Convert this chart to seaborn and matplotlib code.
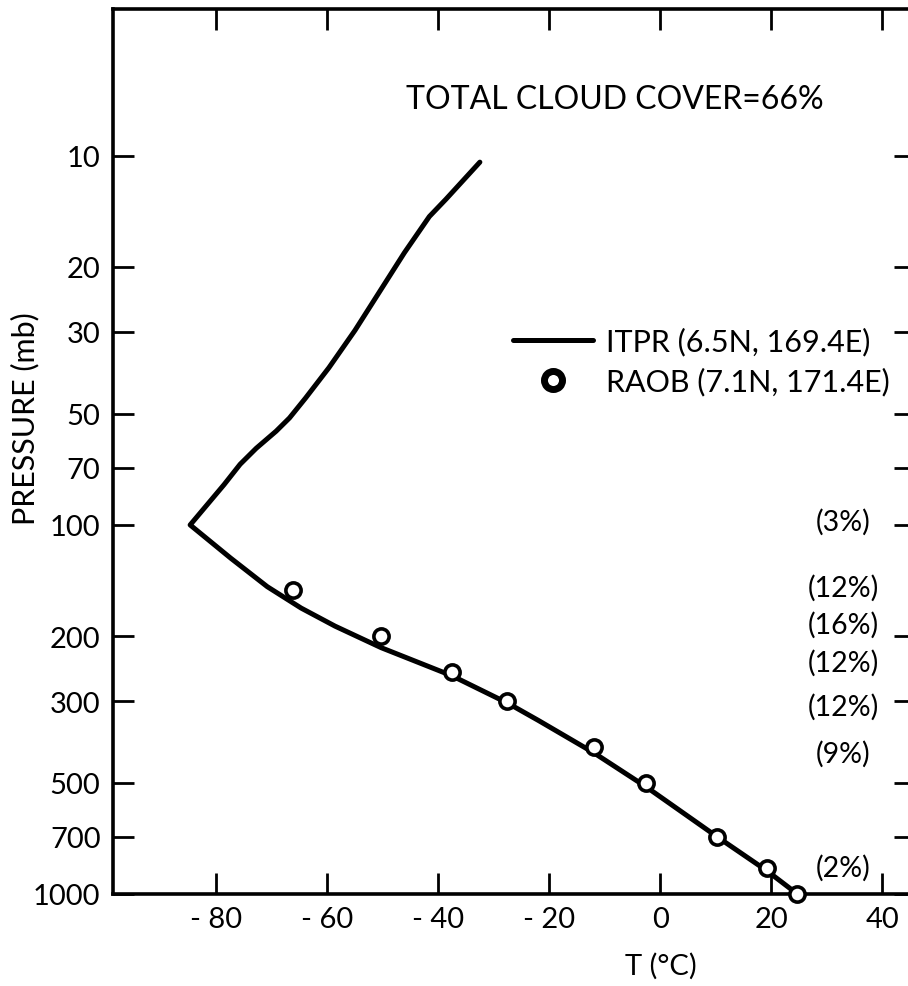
import matplotlib
matplotlib.use("Agg")
import matplotlib.pyplot as plt
from matplotlib.lines import Line2D
from matplotlib.ticker import FixedLocator, NullLocator
import pandas as pd
import seaborn as sns

# ITPR retrieved temperature profile (pressure in mb, temperature in deg C)
itpr_pressure = [10.4, 13.1, 14.6, 18.3, 29.7, 37.5, 45.3, 51.3, 55.7, 62.0, 68.5,
                 77.8, 100, 123, 147, 168, 188, 215, 256, 305, 339, 415, 513, 699,
                 867, 1000]
itpr_temp = [-32.5, -38.6, -41.6, -46.1, -55.0, -59.7, -63.9, -66.8, -69.2, -72.8,
             -75.7, -78.6, -84.7, -77.4, -70.8, -64.7, -58.6, -50.3, -37.6, -27.3,
             -21.9, -11.9, -2.5, 10.2, 19.3, 24.7]

# Radiosonde observations at mandatory levels
raob_pressure = [150, 200, 250, 300, 400, 500, 700, 850, 1000]
raob_temp = [-66.1, -50.3, -37.6, -27.6, -11.9, -2.5, 10.2, 19.3, 24.7]

# Cloud amount per layer
cloud_labels = ["(3%)", "(12%)", "(16%)", "(12%)", "(12%)", "(9%)", "(2%)"]
cloud_pressure = [98, 148, 186, 236, 311, 416, 845]

y_ticks = [10, 20, 30, 50, 70, 100, 200, 300, 500, 700, 1000]
y_ticklabels = ["10", "20", "30", "50", "70", "100", "200", "300", "500", "700", "1000"]
x_ticks = [-80, -60, -40, -20, 0, 20, 40]
x_ticklabels = ["- 80", "- 60", "- 40", "- 20", "0", "20", "40"]

legend_labels = ["ITPR (6.5N, 169.4E)", "RAOB (7.1N, 171.4E)"]
title_text = "TOTAL CLOUD COVER=66%"

sns.set_theme(style="ticks")
plt.rcParams["font.family"] = ["Lato", "DejaVu Sans"]
plt.rcParams["text.color"] = "black"
plt.rcParams["axes.labelcolor"] = "black"

itpr = pd.DataFrame({"T": itpr_temp, "p": itpr_pressure})
raob = pd.DataFrame({"T": raob_temp, "p": raob_pressure})

fig = plt.figure(figsize=(9.08, 9.87), dpi=100)
ax = fig.add_axes([113 / 908, 92 / 987, 802 / 908, 885 / 987])

sns.lineplot(data=itpr, x="T", y="p", sort=False, estimator=None,
             color="black", lw=3.6, ax=ax, zorder=2)
sns.scatterplot(data=raob, x="T", y="p", marker="o", s=120,
                facecolor="white", edgecolor="black", linewidth=2.6,
                ax=ax, zorder=3, clip_on=False)

ax.set_yscale("log")
ax.set_ylim(1000, 4)
ax.set_xlim(-98.6, 45.9)

ax.yaxis.set_major_locator(FixedLocator(y_ticks))
ax.yaxis.set_minor_locator(NullLocator())
ax.set_yticklabels(y_ticklabels)
ax.set_xticks(x_ticks)
ax.set_xticklabels(x_ticklabels)

ax.tick_params(axis="both", which="major", direction="in", length=15, width=2.0,
               labelsize=21, pad=9, colors="black",
               top=True, right=True, labeltop=False, labelright=False)

for side in ["left", "right", "top", "bottom"]:
    ax.spines[side].set_linewidth(2.6)
    ax.spines[side].set_color("black")

ax.set_xlabel("T (°C)", fontsize=21, va="center")
ax.xaxis.set_label_coords(0.683, -0.080)
ax.set_ylabel("PRESSURE (mb)", fontsize=22, va="center")
ax.yaxis.set_label_coords(-0.11, 0.538)

ax.text(0.626, 0.898, title_text, transform=ax.transAxes, ha="center",
        va="center", fontsize=23)

for lab, p in zip(cloud_labels, cloud_pressure):
    ax.text(33, p, lab, ha="center", va="center", fontsize=20.5)

handles = [
    Line2D([], [], color="black", lw=3.6),
    Line2D([], [], marker="o", ls="", markersize=13, markerfacecolor="white",
           markeredgecolor="black", markeredgewidth=5),
]
ax.legend(handles, legend_labels, loc="upper left", bbox_to_anchor=(0.499, 0.641),
          frameon=False, fontsize=22, handlelength=2.6, handletextpad=0.45,
          borderpad=0, borderaxespad=0, labelspacing=0.38)

fig.savefig("out.png", dpi=100)
